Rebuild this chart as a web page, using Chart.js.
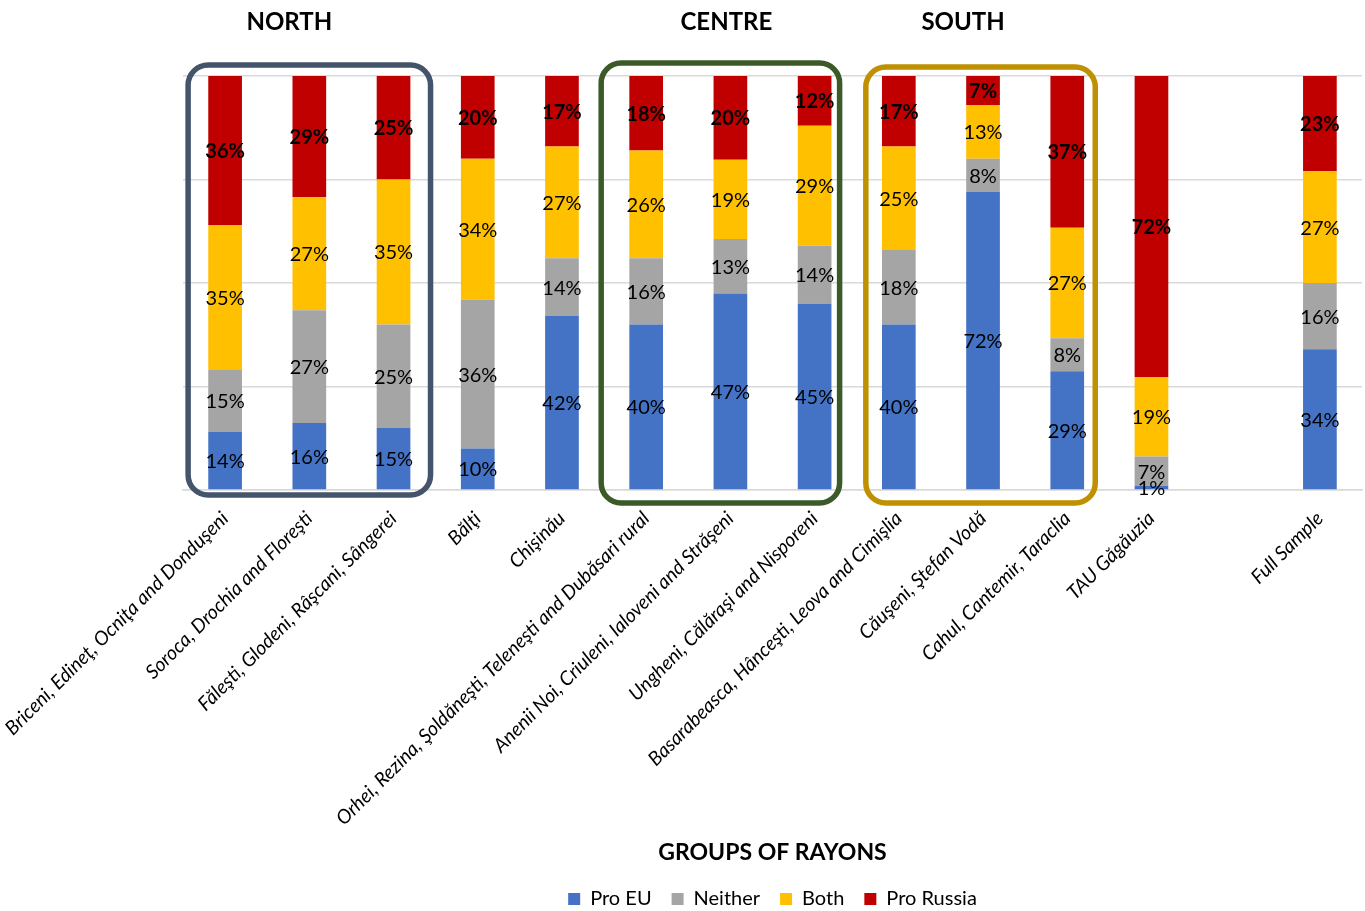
<!DOCTYPE html>
<html>
<head>
<meta charset="utf-8">
<script src="https://cdn.jsdelivr.net/npm/chart.js@4"></script>
<style>
  html, body { margin: 0; padding: 0; background: #fff; }
  #wrap { width: 1365px; height: 911px; }
</style>
</head>
<body>
<div id="wrap"><canvas id="c" width="1365" height="911"></canvas></div>
<script>
const categories = [
  'Briceni, Edineţ, Ocniţa and Donduşeni',
  'Soroca, Drochia and Floreşti',
  'Făleşti, Glodeni, Râşcani, Sângerei',
  'Bălţi',
  'Chişinău',
  'Orhei, Rezina, Şoldăneşti, Teleneşti and Dubăsari rural',
  'Anenii Noi, Criuleni, Ialoveni and Străşeni',
  'Ungheni, Călăraşi and Nisporeni',
  'Basarabeasca, Hânceşti, Leova and Cimişlia',
  'Căuşeni, Ştefan Vodă',
  'Cahul, Cantemir, Taraclia',
  'TAU Găgăuzia',
  '',
  'Full Sample'
];
const seriesNames = ['Pro EU', 'Neither', 'Both', 'Pro Russia'];
const proEU     = [14, 16, 15, 10, 42, 40, 47, 45, 40, 72, 29, 1, null, 34];
const neither   = [15, 27, 25, 36, 14, 16, 13, 14, 18, 8, 8, 7, null, 16];
const both      = [35, 27, 35, 34, 27, 26, 19, 29, 25, 13, 27, 19, null, 27];
const proRussia = [36, 29, 25, 20, 17, 18, 20, 12, 17, 7, 37, 72, null, 23];
const regionTitles = ['NORTH', 'CENTRE', 'SOUTH'];
const axisTitle = 'GROUPS OF RAYONS';

const colors = ['#4472C4', '#A5A5A5', '#FFC000', '#C00000'];
const allSeries = [proEU, neither, both, proRussia];
const totals = categories.map((_, j) => allSeries.reduce((s, a) => s + (a[j] || 0), 0));
const share = arr => arr.map((v, j) => v == null ? null : v / totals[j] * 100);

const FONT = 'Lato, "Open Sans", sans-serif';

const labelPlugin = {
  id: 'segLabels',
  afterDatasetsDraw(chart) {
    const ctx = chart.ctx;
    ctx.save();
    ctx.textAlign = 'center';
    ctx.textBaseline = 'middle';
    ctx.fillStyle = '#000';
    chart.data.datasets.forEach((ds, i) => {
      const meta = chart.getDatasetMeta(i);
      meta.data.forEach((bar, j) => {
        const v = allSeries[i][j];
        if (v == null) return;
        const p = bar.getProps(['x', 'y', 'base'], true);
        ctx.font = (i === 3 ? 'bold ' : '') + '20px ' + FONT;
        ctx.fillText(v + '%', p.x, (p.y + p.base) / 2 + 1);
      });
    });
    ctx.restore();
  }
};

function rrect(ctx, x0, y0, x1, y1, r) {
  ctx.beginPath();
  ctx.moveTo(x0 + r, y0);
  ctx.lineTo(x1 - r, y0);
  ctx.arcTo(x1, y0, x1, y0 + r, r);
  ctx.lineTo(x1, y1 - r);
  ctx.arcTo(x1, y1, x1 - r, y1, r);
  ctx.lineTo(x0 + r, y1);
  ctx.arcTo(x0, y1, x0, y1 - r, r);
  ctx.lineTo(x0, y0 + r);
  ctx.arcTo(x0, y0, x0 + r, y0, r);
  ctx.closePath();
}

const boxPlugin = {
  id: 'regionBoxes',
  afterDatasetsDraw(chart) {
    const ctx = chart.ctx;
    const xs = chart.scales.x;
    const ca = chart.chartArea;
    const boxes = [
      { from: 0, to: 2, l: -37, r: 37, t: -11, b: 5, color: '#44546A', title: regionTitles[0], tx: 1, tdx: -20 },
      { from: 5, to: 7, l: -45, r: 25, t: -13, b: 13, color: '#3B5A28', title: regionTitles[1], tx: 6, tdx: -4 },
      { from: 8, to: 10, l: -33, r: 28, t: -9, b: 13, color: '#BF9000', title: regionTitles[2], tx: 9, tdx: -20 }
    ];
    ctx.save();
    boxes.forEach(b => {
      const x0 = xs.getPixelForValue(b.from) + b.l;
      const x1 = xs.getPixelForValue(b.to) + b.r;
      ctx.lineWidth = 5.5;
      ctx.strokeStyle = b.color;
      rrect(ctx, x0, ca.top + b.t, x1, ca.bottom + b.b, 20);
      ctx.stroke();
      ctx.fillStyle = '#000';
      ctx.font = 'bold 24px ' + FONT;
      ctx.textAlign = 'center';
      ctx.textBaseline = 'middle';
      ctx.fillText(b.title, xs.getPixelForValue(b.tx) + b.tdx, 22);
    });
    ctx.restore();
  }
};

new Chart(document.getElementById('c'), {
  type: 'bar',
  data: {
    labels: categories,
    datasets: seriesNames.map((name, i) => ({
      label: name,
      data: share(allSeries[i]),
      backgroundColor: colors[i],
      borderWidth: 0,
      barPercentage: 0.8,
      categoryPercentage: 0.5
    }))
  },
  options: {
    responsive: false,
    devicePixelRatio: 1,
    animation: false,
    layout: { padding: { left: 183, right: 3, top: 76, bottom: -8 } },
    plugins: {
      legend: {
        position: 'bottom',
        labels: {
          boxWidth: 12, boxHeight: 12, padding: 20,
          color: '#000',
          font: { family: FONT, size: 20 }
        }
      },
      tooltip: { enabled: false }
    },
    scales: {
      x: {
        stacked: true,
        grid: { display: false, drawTicks: false },
        border: { display: true, color: '#D9D9D9', width: 1.5 },
        ticks: {
          autoSkip: false, maxRotation: 45, minRotation: 45, padding: 17,
          color: '#000',
          font: { family: FONT, size: 19.5, style: 'italic' }
        },
        title: {
          display: true, text: axisTitle, color: '#000',
          font: { family: FONT, size: 23, weight: 'bold' },
          padding: { top: 0, bottom: 3 }
        },
        afterFit(scale) {
          scale.height = 379;
          scale.paddingLeft = 0;
          scale.paddingRight = 0;
        }
      },
      y: {
        stacked: true, min: 0, max: 100,
        ticks: { display: false, stepSize: 25 },
        grid: { color: '#D9D9D9', lineWidth: 1.5, drawTicks: false },
        border: { display: false },
        afterFit(scale) { scale.width = 0; scale.paddingTop = 0; scale.paddingBottom = 0; }
      }
    }
  },
  plugins: [labelPlugin, boxPlugin]
});
</script>
</body>
</html>
